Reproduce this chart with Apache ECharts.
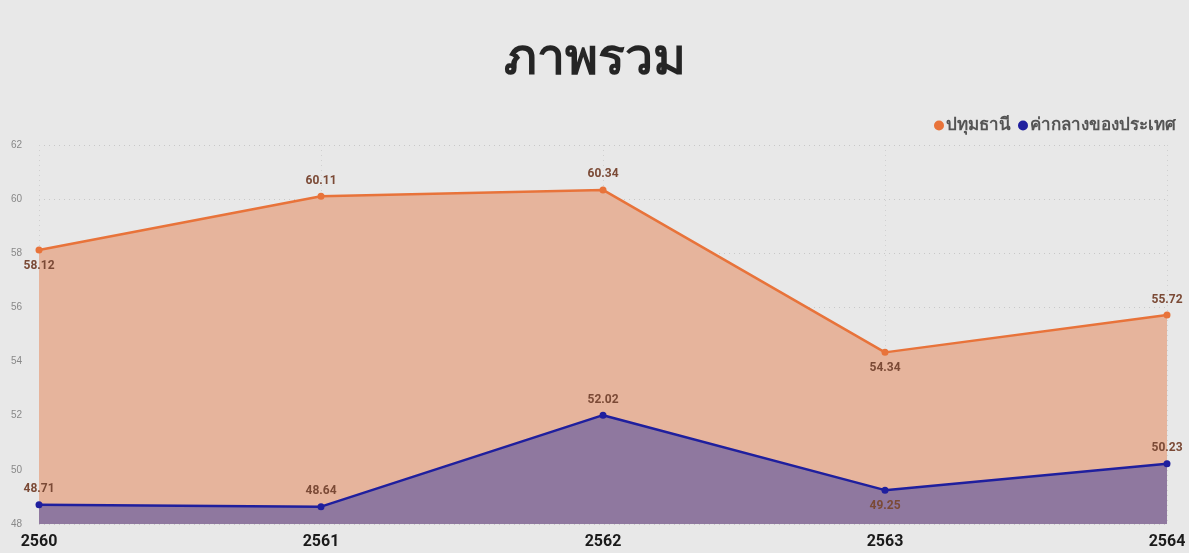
<!DOCTYPE html>
<html><head><meta charset="utf-8">
<script src="https://cdn.jsdelivr.net/npm/echarts@6/dist/echarts.min.js"></script>
<style>html,body{margin:0;padding:0;background:#e8e8e8;}#c{width:1189px;height:553px;}</style>
</head><body><div id="c"></div>
<script>
const years = ['2560','2561','2562','2563','2564'];
const pathumThani = [58.12, 60.11, 60.34, 54.34, 55.72];
const national = [48.71, 48.64, 52.02, 49.25, 50.23];
const pathumLabelPos = ['bottom','top','top','bottom','top'];
const nationalLabelPos = ['top','top','top','bottom','top'];
const yTicks = [48,50,52,54,56,58,60,62];

const chart = echarts.init(document.getElementById('c'));
const lbl = {show:true, color:'#7b4a36', fontWeight:'bold', fontSize:12, fontFamily:'Roboto, "Noto Sans", sans-serif', distance:6};
chart.setOption({
  backgroundColor:'#e8e8e8',
  title:{text:'ภาพรวม', left:'center', top:30, textStyle:{fontSize:50, fontWeight:'bold', color:'#252525'}},
  legend:{right:8, top:112, itemWidth:10, itemHeight:10, itemGap:7, icon:'circle',
    textStyle:{fontSize:17, fontWeight:'bold', color:'#555', padding:[0,0,0,-3]}},
  grid:{left:39, right:22, top:145, bottom:29},
  xAxis:{type:'category', data:years, boundaryGap:false,
    axisLine:{show:false}, axisTick:{show:false},
    axisLabel:{fontSize:16, fontWeight:'bold', color:'#1a1a1a', margin:10, fontFamily:'Roboto, "Noto Sans", sans-serif'},
    splitLine:{show:true, lineStyle:{type:[1,4], color:'#d0d0d0'}}},
  yAxis:{type:'value', min:yTicks[0], max:yTicks[yTicks.length-1], interval:2,
    axisLine:{show:false}, axisTick:{show:false},
    axisLabel:{fontSize:10, color:'#888', margin:17},
    splitLine:{lineStyle:{type:[1,4], color:'#c8c8c8'}}},
  series:[
    {name:'ปทุมธานี', type:'line', data:pathumThani.map((v,i)=>({value:v, label:{position:pathumLabelPos[i]}})),
     symbol:'circle', symbolSize:7, color:'#e8733a', lineStyle:{width:2.5, color:'#e8733a'},
     areaStyle:{color:'#e6b49c', opacity:1}, label:lbl, z:2},
    {name:'ค่ากลางของประเทศ', type:'line', data:national.map((v,i)=>({value:v, label:{position:nationalLabelPos[i]}})),
     symbol:'circle', symbolSize:7, color:'#1f1f9e', lineStyle:{width:2.5, color:'#1f1f9e'},
     areaStyle:{color:'#8f789f', opacity:1}, label:lbl, z:3}
  ]
});
</script></body></html>
